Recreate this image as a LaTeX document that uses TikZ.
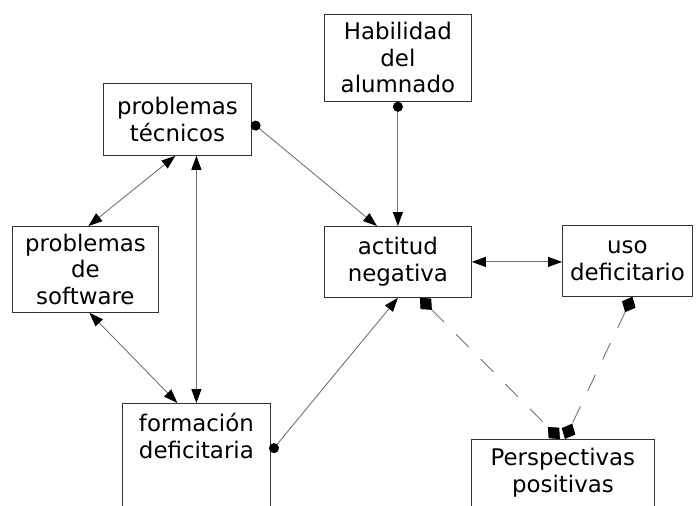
\documentclass[tikz,border=0pt]{standalone}
\usepackage{fontspec}
\setmainfont{DejaVu Sans}
\usetikzlibrary{arrows.meta,calc}
\begin{document}
\begin{tikzpicture}[x=1pt,y=-1pt,
  box/.style={draw=black!80, line width=0.8pt, inner sep=0pt, align=center, anchor=north west,
    font=\fontsize{22.9pt}{26.5pt}\selectfont},
  lbl/.style={inner sep=0pt, align=center, anchor=north, font=\fontsize{22.9pt}{26.5pt}\selectfont},
  conn/.style={draw=black!55, line width=0.9pt},
  tri/.tip={Triangle[length=14pt,width=10pt,color=black]},
  dot/.tip={Circle[length=10pt,color=black]},
  dia/.tip={Turned Square[length=17pt,width=15pt,color=black]},
  dotarrow/.style={conn, {dot}-{tri}},
  dblarrow/.style={conn, {tri}-{tri}},
  dashconn/.style={conn, dash pattern=on 18pt off 17pt, {dia}-{dia}}
]
\useasboundingbox (0,0) rectangle (699,506);
\clip (0,0) rectangle (699,506);

\node[box, minimum width=147pt, minimum height=87pt] (hab) at (324,14) {Habilidad\\del\\alumnado};
\node[box, minimum width=148pt, minimum height=72pt] (pt) at (103,83) {problemas\\técnicos};
\node[box, minimum width=146pt, minimum height=86pt] (sw) at (12,226) {problemas\\de\\software};
\node[box, minimum width=147pt, minimum height=71pt] (act) at (324,226) {actitud\\negativa};
\node[box, minimum width=130pt, minimum height=71pt] (uso) at (562,225) {uso\\deficitario};
\node[box, minimum width=148pt, minimum height=130pt] (form) at (122,403) {};
\node[lbl] (formlbl) at ([yshift=-10pt]form.north) {formación\\deficitaria};
\node[box, minimum width=183pt, minimum height=100pt] (persp) at (471,439) {};
\node[lbl] (persplbl) at ([yshift=-9pt]persp.north) {Perspectivas\\positivas};

\draw[dotarrow] (hab.south) -- (act.north);
\draw[dotarrow] ([yshift=-3pt]pt.east) -- ([xshift=53pt]act.north west);
\draw[dblarrow] ([xshift=-2pt]pt.south) -- ([xshift=3pt]sw.north);
\draw[dblarrow] (form.north) -- (form.north |- pt.south);
\draw[dblarrow] ([xshift=4pt]sw.south) -- ([xshift=-19pt]form.north);
\draw[dotarrow] ([yshift=-49pt]form.north east) -- (act.south);
\draw[dblarrow] (act.east) -- (uso.west |- act.east);
\draw[dashconn] ([xshift=22pt]act.south) -- ([xshift=-3pt]persp.north);
\draw[dashconn] ([xshift=5pt]uso.south) -- ([xshift=2pt]persp.north);
\end{tikzpicture}
\end{document}
